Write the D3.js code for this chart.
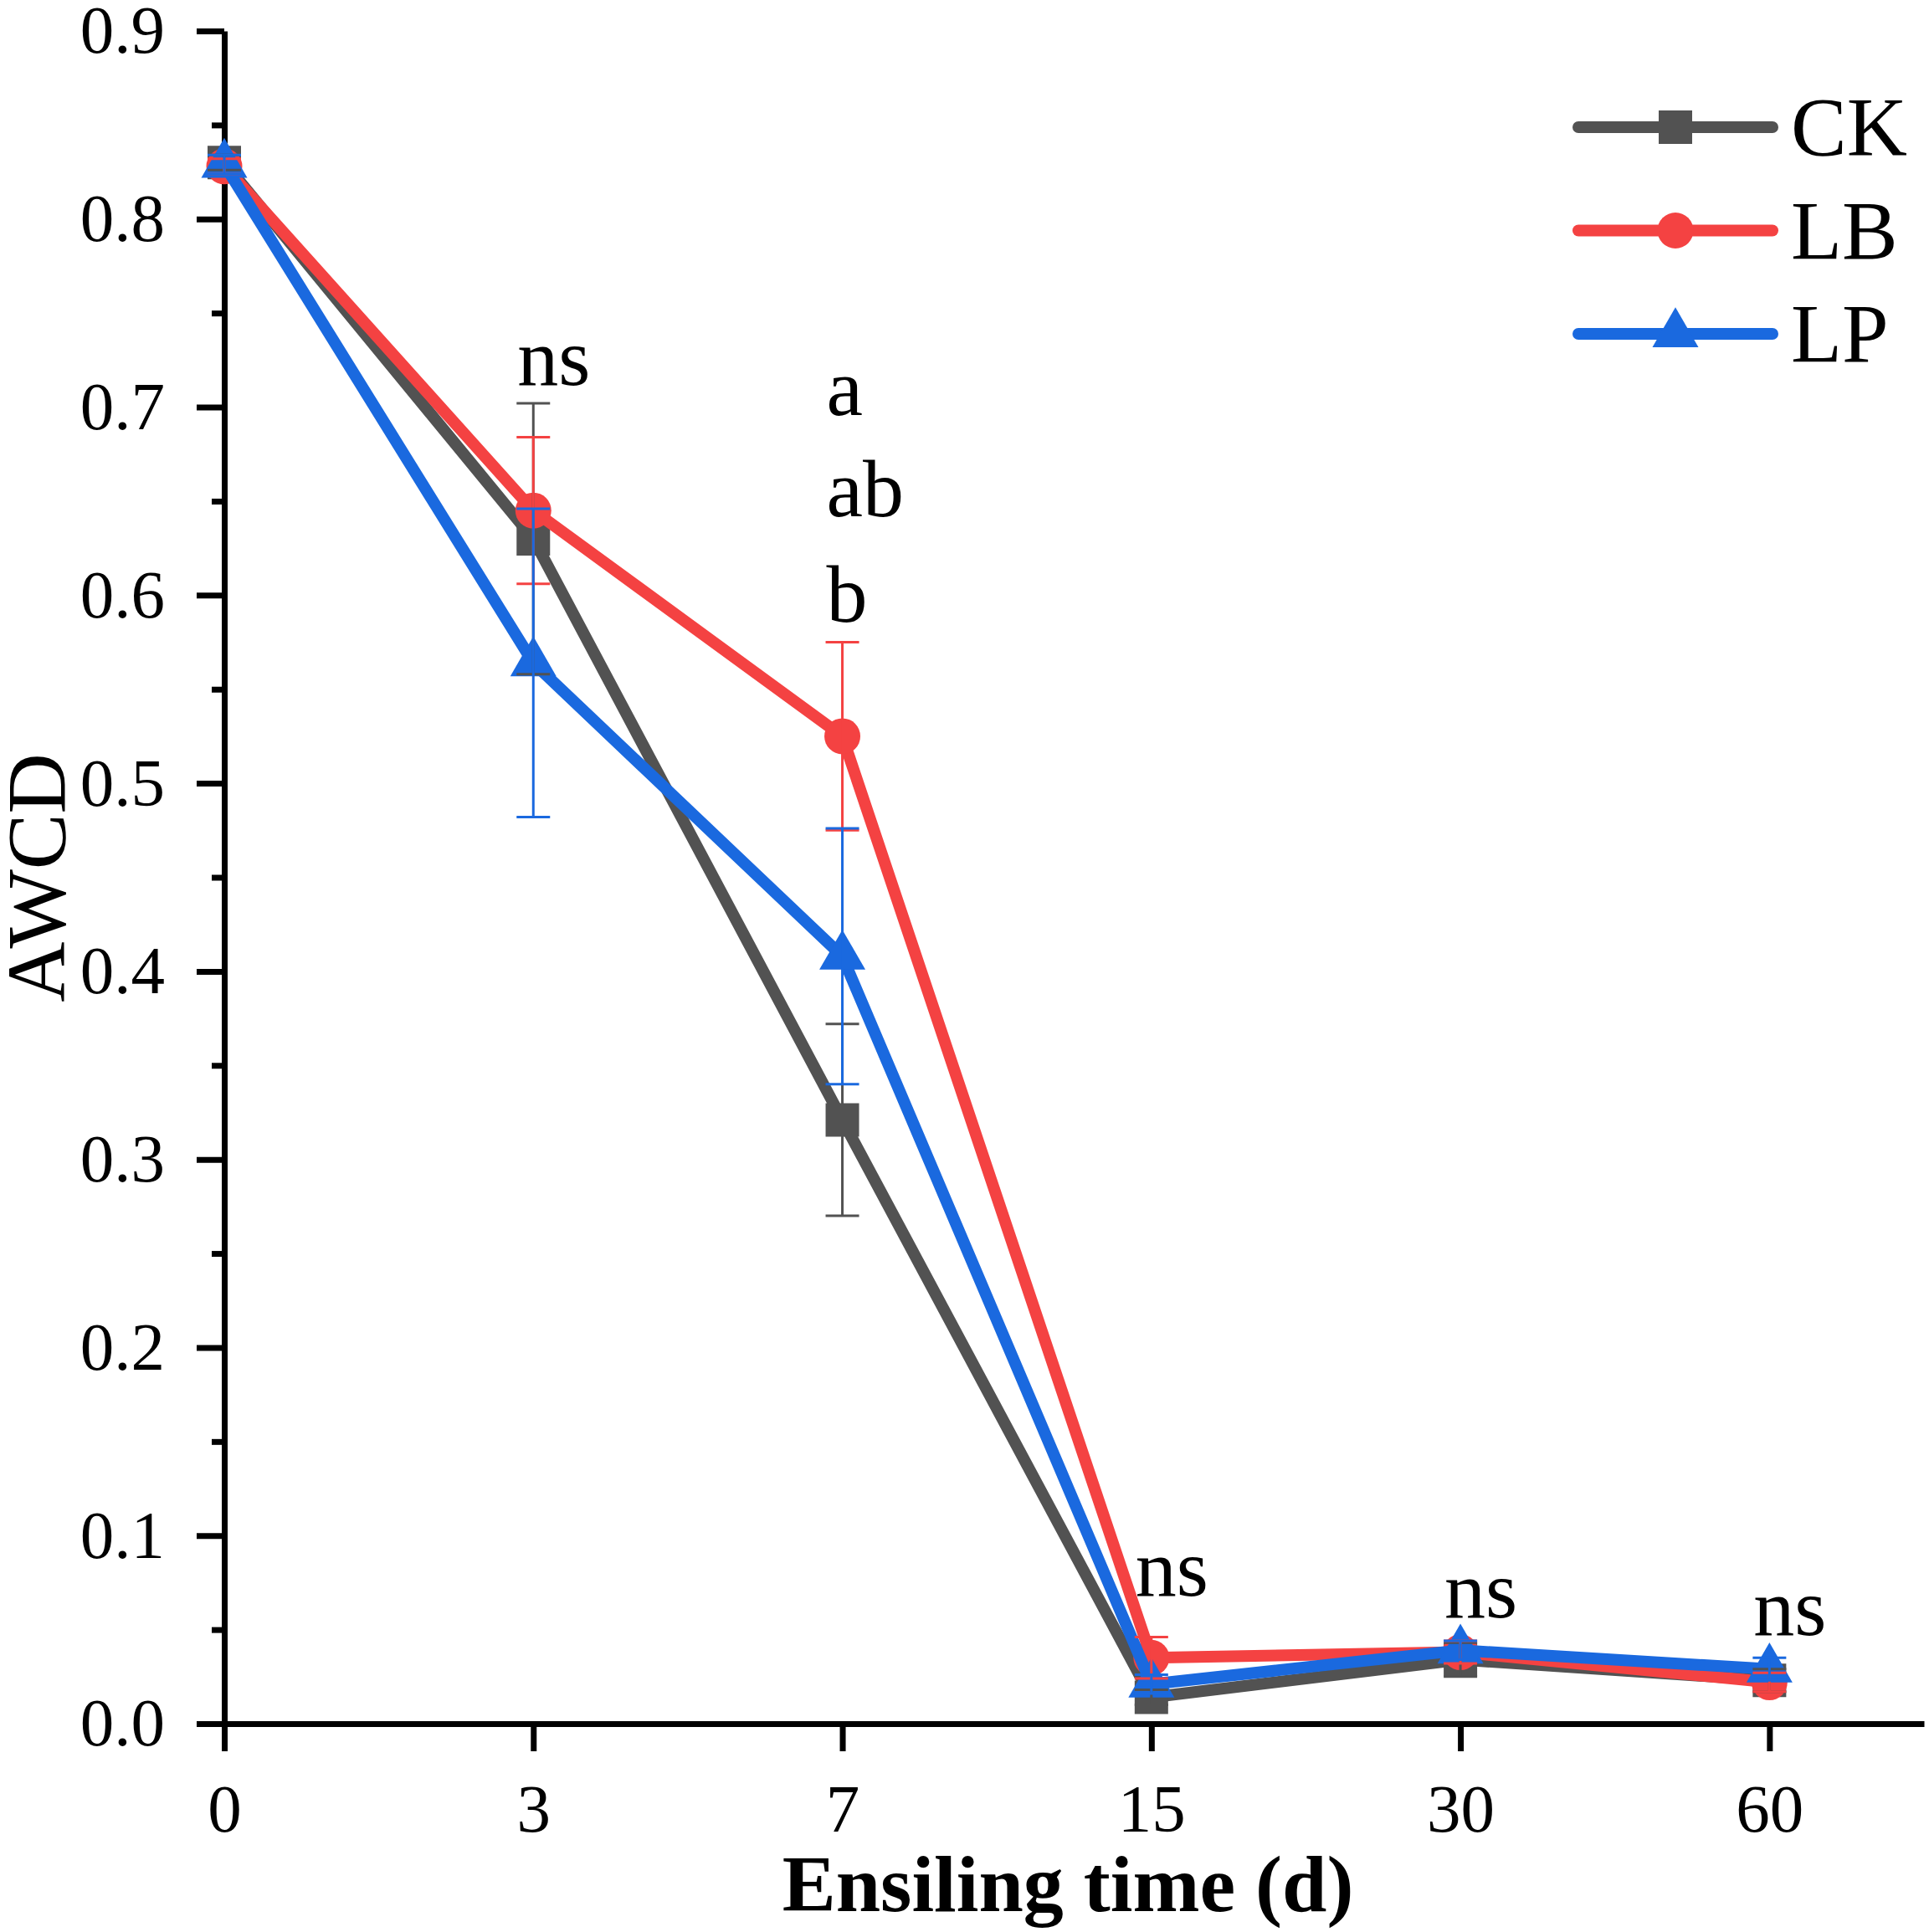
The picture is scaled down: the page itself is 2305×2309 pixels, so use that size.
<!DOCTYPE html>
<html>
<head>
<meta charset="utf-8">
<script src="https://cdn.jsdelivr.net/npm/d3@7"></script>
<style>
  html, body { margin: 0; padding: 0; background: #fff; }
  svg { display: block; font-family: "Liberation Serif", "Times New Roman", serif; }
</style>
</head>
<body>
<svg id="chart" width="2305" height="2309"></svg>
<script>
// ensiling days (categorical, evenly spaced)
var days = ["0", "3", "7", "15", "30", "60"];

var seriesNames = ["CK", "LB", "LP"];
var ckMean = [0.830, 0.630, 0.321, 0.014, 0.034, 0.023];
var ckSd = [0.004, 0.072, 0.051, 0.004, 0.009, 0.006];
var lbMean = [0.828, 0.645, 0.525, 0.035, 0.038, 0.022];
var lbSd = [0.004, 0.039, 0.050, 0.011, 0.006, 0.005];
var lpMean = [0.829, 0.564, 0.408, 0.021, 0.039, 0.029];
var lpSd = [0.005, 0.082, 0.068, 0.005, 0.005, 0.006];

// significance letters: day index, text, height (AWCD units)
var annotDay = [1, 2, 2, 2, 3, 4, 5];
var annotText = ["ns", "a", "ab", "b", "ns", "ns", "ns"];
var annotY = [0.712, 0.696, 0.642, 0.586, 0.068, 0.0565, 0.047];

var yMajor = [0, 0.1, 0.2, 0.3, 0.4, 0.5, 0.6, 0.7, 0.8, 0.9];
var yMinor = [0.05, 0.15, 0.25, 0.35, 0.45, 0.55, 0.65, 0.75, 0.85];

var colorArray = ["#525252", "#f44242", "#1a69df"];
var symbolArray = [d3.symbolSquare, d3.symbolCircle, d3.symbolTriangle];
var symbolSize = [1600, 1450, 1310];

var series = [ckMean, lbMean, lpMean].map(function (m, k) {
  var sd = [ckSd, lbSd, lpSd][k];
  return {
    name: seriesNames[k],
    color: colorArray[k],
    symbol: symbolArray[k],
    size: symbolSize[k],
    values: m.map(function (v, i) { return { i: i, v: v, sd: sd[i] }; })
  };
});

var svg = d3.select("#chart");

var x = d3.scaleLinear().domain([0, 5.5]).range([268, 2299]);
var y = d3.scaleLinear().domain([0, 0.9]).range([2060, 37]);

// y axis
var yAxis = svg.append("g").attr("transform", "translate(268,0)");
yAxis.call(d3.axisLeft(y).tickValues(yMajor).tickSize(33).tickSizeOuter(0)
  .tickPadding(38).tickFormat(d3.format(".1f")));
yAxis.append("g").call(d3.axisLeft(y).tickValues(yMinor).tickSize(15)
  .tickSizeOuter(0).tickFormat(""))
  .select(".domain").remove();

// x axis
var xAxis = svg.append("g").attr("transform", "translate(0,2060)");
xAxis.call(d3.axisBottom(x).tickValues(d3.range(days.length)).tickSize(33)
  .tickSizeOuter(0).tickPadding(38).tickFormat(function (d) { return days[d]; }));

svg.selectAll(".domain, .tick line")
  .attr("stroke", "#000")
  .attr("stroke-width", 7);
svg.selectAll(".tick text")
  .attr("fill", "#000")
  .attr("font-size", 81)
  .attr("font-family", "Liberation Serif, serif");

// axis titles
svg.append("text")
  .attr("x", 1276)
  .attr("y", 2284)
  .attr("text-anchor", "middle")
  .attr("font-size", 96)
  .attr("font-weight", "bold")
  .text("Ensiling time (d)");

svg.append("text")
  .attr("transform", "translate(77,1049) rotate(-90)")
  .attr("text-anchor", "middle")
  .attr("font-size", 100)
  .text("AWCD");

// series: line + symbols
var line = d3.line()
  .x(function (d) { return x(d.i); })
  .y(function (d) { return y(d.v); });

series.forEach(function (s) {
  var g = svg.append("g").attr("class", "series");

  g.append("path")
    .attr("d", line(s.values))
    .attr("fill", "none")
    .attr("stroke", s.color)
    .attr("stroke-width", 14)
    .attr("stroke-linejoin", "round")
    .attr("stroke-linecap", "round");

  g.selectAll(".mark").data(s.values).enter()
    .append("path")
    .attr("class", "mark")
    .attr("transform", function (d) { return "translate(" + x(d.i) + "," + y(d.v) + ")"; })
    .attr("d", d3.symbol().type(s.symbol).size(s.size))
    .attr("fill", s.color);
});

// error bars sit on top of every series
var capHalf = 20;
series.forEach(function (s) {
  var err = svg.append("g").selectAll(".err").data(s.values).enter()
    .append("g").attr("class", "err")
    .attr("stroke", s.color)
    .attr("stroke-width", 3);
  err.append("line")
    .attr("x1", function (d) { return x(d.i); })
    .attr("x2", function (d) { return x(d.i); })
    .attr("y1", function (d) { return y(d.v + d.sd); })
    .attr("y2", function (d) { return y(d.v - d.sd); });
  err.append("line")
    .attr("x1", function (d) { return x(d.i) - capHalf; })
    .attr("x2", function (d) { return x(d.i) + capHalf; })
    .attr("y1", function (d) { return y(d.v + d.sd); })
    .attr("y2", function (d) { return y(d.v + d.sd); });
  err.append("line")
    .attr("x1", function (d) { return x(d.i) - capHalf; })
    .attr("x2", function (d) { return x(d.i) + capHalf; })
    .attr("y1", function (d) { return y(d.v - d.sd); })
    .attr("y2", function (d) { return y(d.v - d.sd); });
});

// significance letters
svg.selectAll(".annot").data(annotText).enter()
  .append("text")
  .attr("class", "annot")
  .attr("x", function (t, k) { return x(annotDay[k]) - 19; })
  .attr("y", function (t, k) { return y(annotY[k]); })
  .attr("font-size", 98)
  .text(function (t) { return t; });

// legend
var legend = svg.append("g").attr("transform", "translate(1886,152)");
series.forEach(function (s, k) {
  var row = legend.append("g").attr("transform", "translate(0," + k * 123.5 + ")");
  row.append("line")
    .attr("x1", 0).attr("x2", 232)
    .attr("stroke", s.color)
    .attr("stroke-width", 14)
    .attr("stroke-linecap", "round");
  row.append("path")
    .attr("transform", "translate(116,0)")
    .attr("d", d3.symbol().type(s.symbol).size(s.size))
    .attr("fill", s.color);
  row.append("text")
    .attr("x", 254)
    .attr("y", 33)
    .attr("font-size", 100)
    .text(s.name);
});
</script>
</body>
</html>
